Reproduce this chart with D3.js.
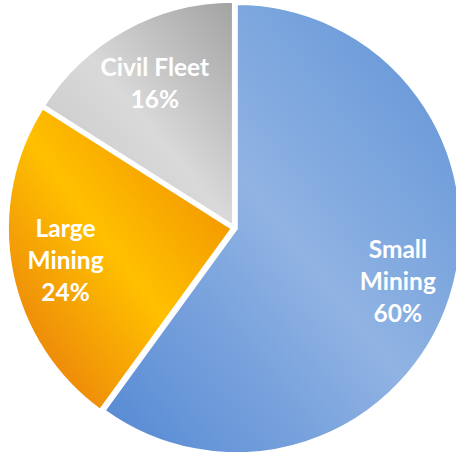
<!DOCTYPE html>
<html>
<head>
<meta charset="utf-8">
<script src="https://cdn.jsdelivr.net/npm/d3@7"></script>
<style>
  html, body { margin: 0; padding: 0; background: #ffffff; }
  svg { display: block; }
</style>
</head>
<body>
<div id="chart"></div>
<script>
// Fleet composition shares
const categories = ["Small Mining", "Large Mining", "Civil Fleet"];
const values = [60, 24, 16];
const labelLines = [["Small", "Mining"], ["Large", "Mining"], ["Civil Fleet"]];

// Gradient stops per slice: edge, middle band, far edge
const gradientStops = [
  ["#5e92d6", "#90b3e3", "#5488d3"],
  ["#ec8300", "#ffc000", "#e5700f"],
  ["#a2a2a2", "#d9d9d9", "#c4c4c4"]
];

const width = 456, height = 452;
const cx = 234.4, cy = 228, radius = 225;
const explode = 2;

const svg = d3.select("#chart").append("svg")
  .attr("width", width)
  .attr("height", height);

const defs = svg.append("defs");
gradientStops.forEach((stops, i) => {
  const g = defs.append("linearGradient")
    .attr("id", "grad" + i)
    .attr("x1", 1).attr("y1", 0)
    .attr("x2", 0).attr("y2", 1);
  g.append("stop").attr("offset", "0%").attr("stop-color", stops[0]);
  g.append("stop").attr("offset", "50%").attr("stop-color", stops[1]);
  g.append("stop").attr("offset", "100%").attr("stop-color", stops[2]);
});

const pie = d3.pie().sort(null).value(d => d)
  .startAngle(0).endAngle(2 * Math.PI);
const arcs = pie(values);
const total = d3.sum(values);

const arc = d3.arc().innerRadius(0).outerRadius(radius);

const g = svg.append("g").attr("transform", `translate(${cx},${cy})`);

const slices = g.selectAll("g.slice")
  .data(arcs)
  .join("g")
  .attr("class", "slice")
  .attr("transform", d => {
    const a = (d.startAngle + d.endAngle) / 2;
    return `translate(${Math.sin(a) * explode},${-Math.cos(a) * explode})`;
  });

slices.append("path")
  .attr("d", arc)
  .attr("fill", (d, i) => `url(#grad${i})`)
  .attr("stroke", "#ffffff")
  .attr("stroke-width", 3)
  .attr("stroke-linejoin", "miter");

const lineH = 32;
slices.each(function(d, i) {
  const lines = labelLines[i].concat([Math.round(d.value / total * 100) + "%"]);
  // shorter label blocks sit a little closer to the centre
  const lr = radius * (lines.length < 3 ? 0.725 : 0.755);
  const [lx, ly] = d3.arc().innerRadius(lr).outerRadius(lr).centroid(d);
  const t = d3.select(this).append("text")
    .attr("text-anchor", "middle")
    .attr("fill", "#ffffff")
    .style("font-family", "Lato, 'Open Sans', sans-serif")
    .style("font-weight", 700)
    .style("font-size", "24.5px");
  lines.forEach((s, k) => {
    t.append("tspan")
      .attr("x", lx)
      .attr("y", ly + (k - (lines.length - 1) / 2) * lineH)
      .attr("dy", "0.35em")
      .text(s);
  });
});
</script>
</body>
</html>
